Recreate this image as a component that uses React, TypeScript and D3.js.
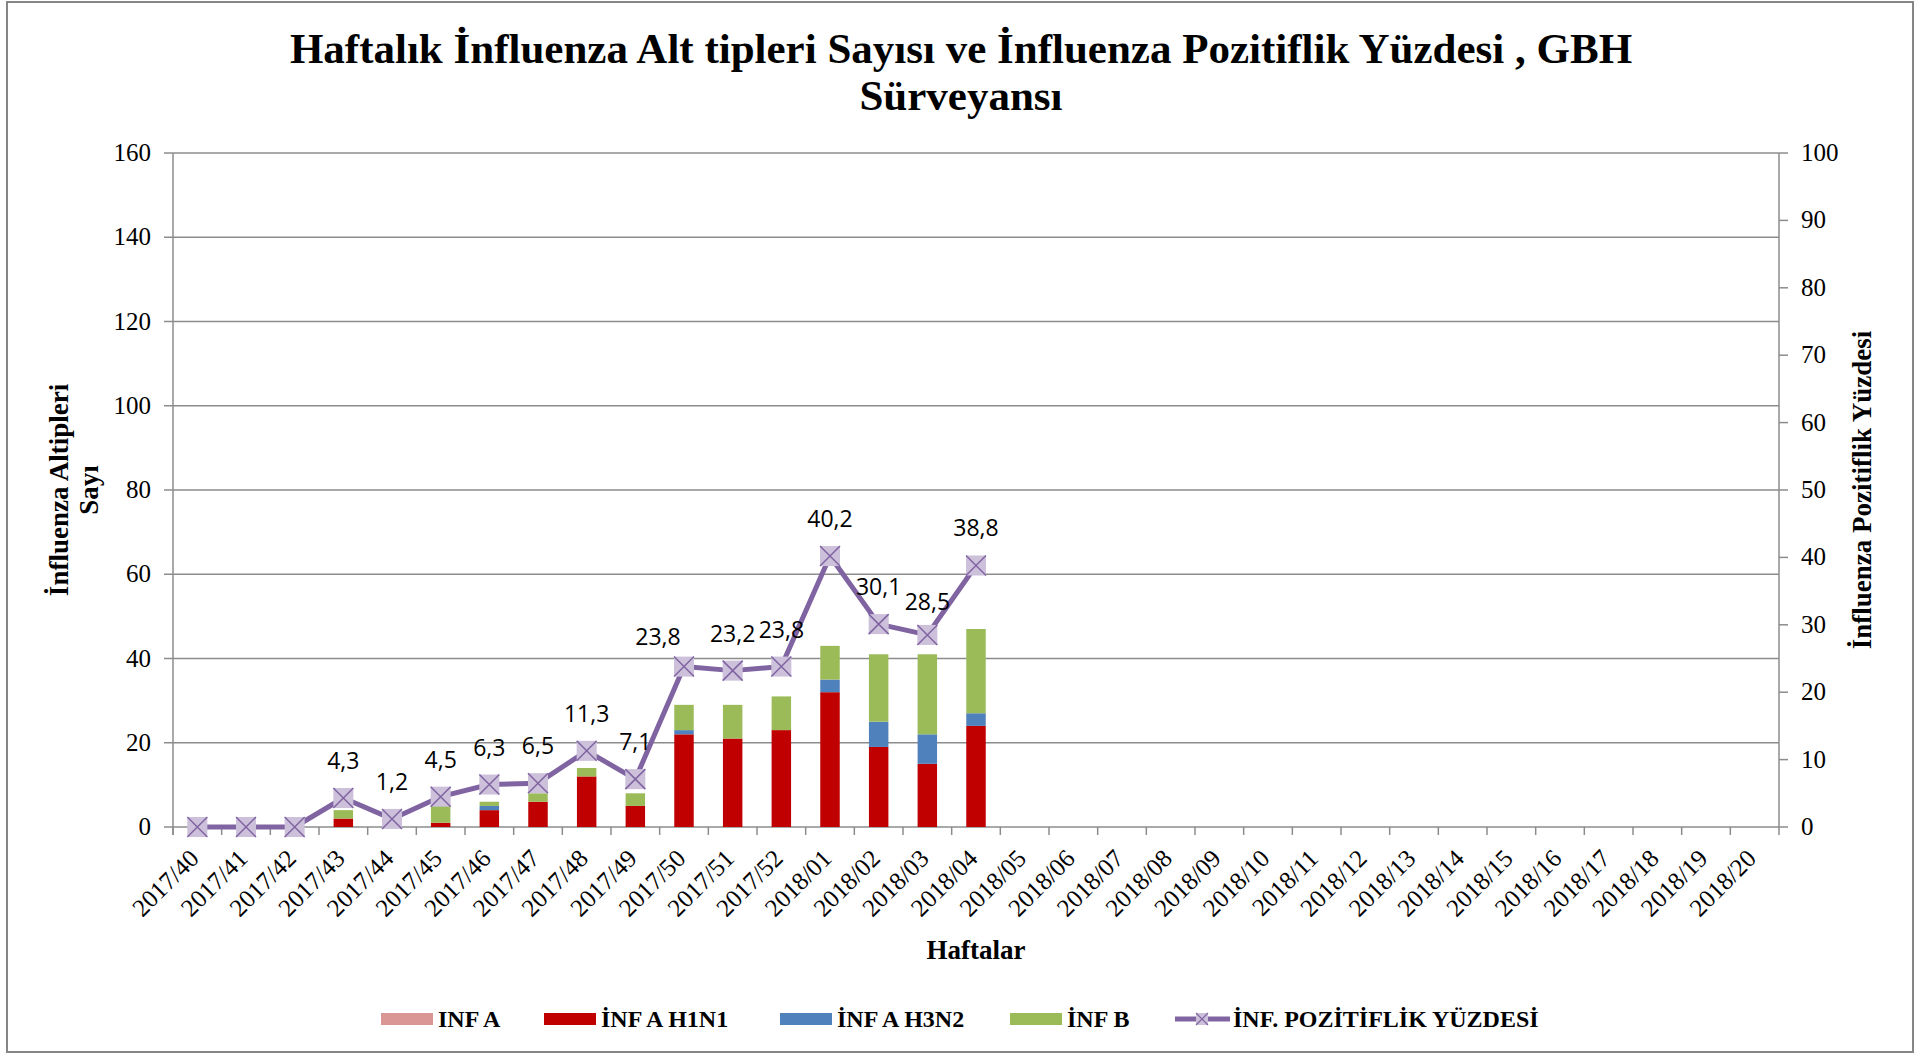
import React from "react";
import * as d3 from "d3";

const weeks = [
  "2017/40", "2017/41", "2017/42", "2017/43", "2017/44", "2017/45", "2017/46", "2017/47",
  "2017/48", "2017/49", "2017/50", "2017/51", "2017/52", "2018/01", "2018/02", "2018/03",
  "2018/04", "2018/05", "2018/06", "2018/07", "2018/08", "2018/09", "2018/10", "2018/11",
  "2018/12", "2018/13", "2018/14", "2018/15", "2018/16", "2018/17", "2018/18", "2018/19", "2018/20",
];

// Values for the weeks that have data (2017/40 .. 2018/04)
const infA = [0, 0, 0, 0, 0, 0, 0, 0, 0, 0, 0, 0, 0, 0, 0, 0, 0];
const infAH1N1 = [0, 0, 0, 2, 0, 1, 4, 6, 12, 5, 22, 21, 23, 32, 19, 15, 24];
const infAH3N2 = [0, 0, 0, 0, 0, 0, 1, 0, 0, 0, 1, 0, 0, 3, 6, 7, 3];
const infB = [0, 0, 0, 2, 0, 4, 1, 2, 2, 3, 6, 8, 8, 8, 16, 19, 20];
const positivity = [0, 0, 0, 4.3, 1.2, 4.5, 6.3, 6.5, 11.3, 7.1, 23.8, 23.2, 23.8, 40.2, 30.1, 28.5, 38.8];

const leftTicks = [0, 20, 40, 60, 80, 100, 120, 140, 160];
const rightTicks = [0, 10, 20, 30, 40, 50, 60, 70, 80, 90, 100];

const seriesKeys = ["infA", "h1n1", "h3n2", "infB"];
const seriesNames = ["INF A", "İNF A H1N1", "İNF A H3N2", "İNF B"];
const seriesColors = ["#D99694", "#C00000", "#4F81BD", "#9BBB59"];
const lineName = "İNF. POZİTİFLİK YÜZDESİ";

const W = 1928;
const H = 1055;
const M = { left: 173, right: 1779, top: 153, bottom: 827 };

const serif = "'Liberation Serif', 'Times New Roman', serif";
const sans = "'Open Sans', 'Noto Sans', sans-serif";

const trLocale = d3.formatLocale({ decimal: ",", thousands: ".", grouping: [3], currency: ["", ""] });
const fmt = trLocale.format(".1f");

// manual label nudges like the reference (Excel moved labels)
const labelNudge: Record<string, [number, number]> = {
  "2017/50": [-26, 7],
  "2018/03": [0, 4],
};

export default function App() {
  const x = d3.scaleBand<string>().domain(weeks).range([M.left, M.right]).paddingInner(0).paddingOuter(0);
  const yL = d3.scaleLinear().domain([0, 160]).range([M.bottom, M.top]);
  const yR = d3.scaleLinear().domain([0, 100]).range([M.bottom, M.top]);
  const bw = x.bandwidth();
  const barW = bw / 2.5;

  const rows = infAH1N1.map((_, i) => ({
    week: weeks[i],
    infA: infA[i],
    h1n1: infAH1N1[i],
    h3n2: infAH3N2[i],
    infB: infB[i],
  }));
  const stacked = d3.stack<any>().keys(seriesKeys)(rows);

  const cx = (w: string) => (x(w) as number) + bw / 2;
  const pts = positivity.map((v, i) => ({ w: weeks[i], v }));
  const line = d3
    .line<{ w: string; v: number }>()
    .x((d) => cx(d.w))
    .y((d) => yR(d.v));

  const gridColor = "#8C8C8C";
  const ms = 20;

  const legendItems = [
    { x: 381, i: 0 },
    { x: 544, i: 1 },
    { x: 780, i: 2 },
    { x: 1010, i: 3 },
  ];
  const legendY = 1019;

  return (
    <svg
      width={W}
      height={H}
      style={{ position: "absolute", left: 0, top: 0, background: "#fff" }}
      xmlns="http://www.w3.org/2000/svg"
    >
      <rect x={7} y={2} width={1906} height={1050} fill="#fff" stroke="#868686" strokeWidth={2} />

      {/* title */}
      <text x={961} y={63} textAnchor="middle" fontFamily={serif} fontWeight="bold" fontSize={43}>
        Haftalık İnfluenza Alt tipleri Sayısı ve İnfluenza Pozitiflik Yüzdesi , GBH
      </text>
      <text x={961} y={110} textAnchor="middle" fontFamily={serif} fontWeight="bold" fontSize={43}>
        Sürveyansı
      </text>

      {/* gridlines */}
      {leftTicks.map((t) => (
        <line key={"g" + t} x1={M.left} x2={M.right} y1={yL(t)} y2={yL(t)} stroke={gridColor} strokeWidth={1.5} />
      ))}

      {/* left axis */}
      <line x1={M.left} x2={M.left} y1={M.top} y2={M.bottom + 8} stroke={gridColor} strokeWidth={1.5} />
      {leftTicks.map((t) => (
        <g key={"l" + t}>
          <line x1={M.left - 9} x2={M.left} y1={yL(t)} y2={yL(t)} stroke={gridColor} strokeWidth={1.5} />
          <text x={151} y={yL(t) + 8} textAnchor="end" fontFamily={serif} fontSize={25}>
            {t}
          </text>
        </g>
      ))}

      {/* right axis */}
      <line x1={M.right} x2={M.right} y1={M.top} y2={M.bottom + 8} stroke={gridColor} strokeWidth={1.5} />
      {rightTicks.map((t) => (
        <g key={"r" + t}>
          <line x1={M.right} x2={M.right + 9} y1={yR(t)} y2={yR(t)} stroke={gridColor} strokeWidth={1.5} />
          <text x={1801} y={yR(t) + 8} textAnchor="start" fontFamily={serif} fontSize={25}>
            {t}
          </text>
        </g>
      ))}

      {/* bottom axis ticks */}
      {weeks.map((w) => (
        <line key={"xt" + w} x1={x(w)} x2={x(w)} y1={M.bottom} y2={M.bottom + 8} stroke={gridColor} strokeWidth={1.5} />
      ))}
      {weeks.map((w) => (
        <text
          key={"xl" + w}
          transform={`translate(${cx(w) + 3},${M.bottom + 33}) rotate(-45)`}
          textAnchor="end"
          fontFamily={serif}
          fontSize={25}
        >
          {w}
        </text>
      ))}

      {/* bars */}
      {stacked.map((s, si) =>
        s.map((d: any, i: number) =>
          d[1] - d[0] > 0 ? (
            <rect
              key={seriesKeys[si] + i}
              x={cx(rows[i].week) - barW / 2}
              width={barW}
              y={yL(d[1])}
              height={yL(d[0]) - yL(d[1])}
              fill={seriesColors[si]}
            />
          ) : null
        )
      )}

      {/* positivity line */}
      <path d={line(pts) as string} fill="none" stroke="#8064A2" strokeWidth={5} strokeLinejoin="round" />
      {pts.map((p) => {
        const px = cx(p.w);
        const py = yR(p.v);
        const h = ms / 2;
        return (
          <g key={"m" + p.w}>
            <rect x={px - h} y={py - h} width={ms} height={ms} fill="#CCC0DA" />
            <path
              d={`M${px - h},${py - h}L${px + h},${py + h}M${px + h},${py - h}L${px - h},${py + h}`}
              stroke="#8064A2"
              strokeWidth={1.5}
            />
          </g>
        );
      })}
      {pts.map((p) => {
        if (!(p.v > 0)) return null;
        const nudge = labelNudge[p.w] || [0, 0];
        return (
          <text
            key={"lab" + p.w}
            x={cx(p.w) + nudge[0]}
            y={yR(p.v) - 29 + nudge[1]}
            textAnchor="middle"
            fontFamily={sans}
            fontSize={23}
          >
            {fmt(p.v)}
          </text>
        );
      })}

      {/* axis titles */}
      <text
        transform={`translate(59,490) rotate(-90)`}
        textAnchor="middle"
        fontFamily={serif}
        fontWeight="bold"
        fontSize={27}
        dy={9}
      >
        İnfluenza Altipleri
      </text>
      <text
        transform={`translate(89,490) rotate(-90)`}
        textAnchor="middle"
        fontFamily={serif}
        fontWeight="bold"
        fontSize={27}
        dy={9}
      >
        Sayı
      </text>
      <text
        transform={`translate(1862,490) rotate(-90)`}
        textAnchor="middle"
        fontFamily={serif}
        fontWeight="bold"
        fontSize={27}
        dy={9}
      >
        İnfluenza Pozitiflik Yüzdesi
      </text>
      <text x={976} y={959} textAnchor="middle" fontFamily={serif} fontWeight="bold" fontSize={27}>
        Haftalar
      </text>

      {/* legend */}
      {legendItems.map((it) => (
        <g key={"leg" + it.i}>
          <rect x={it.x} y={legendY - 6} width={52} height={12} fill={seriesColors[it.i]} />
          <text x={it.x + 57} y={legendY + 8} fontFamily={serif} fontWeight="bold" fontSize={24}>
            {seriesNames[it.i]}
          </text>
        </g>
      ))}
      <g>
        <line x1={1175} x2={1230} y1={legendY} y2={legendY} stroke="#8064A2" strokeWidth={5} />
        <rect x={1196} y={legendY - 6} width={12} height={12} fill="#CCC0DA" />
        <path
          d={`M1196,${legendY - 6}L1208,${legendY + 6}M1208,${legendY - 6}L1196,${legendY + 6}`}
          stroke="#8064A2"
          strokeWidth={1.2}
        />
        <text x={1233} y={legendY + 8} fontFamily={serif} fontWeight="bold" fontSize={24}>
          {lineName}
        </text>
      </g>
    </svg>
  );
}
